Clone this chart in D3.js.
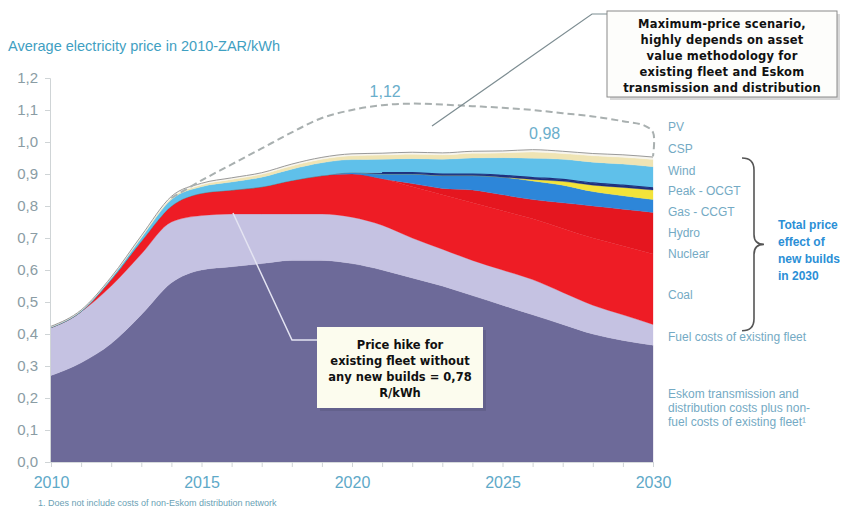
<!DOCTYPE html>
<html><head><meta charset="utf-8">
<script src="https://cdn.jsdelivr.net/npm/d3@7"></script>
<style>body{margin:0;background:#fff;} svg{display:block;font-family:"Liberation Sans",Arial,sans-serif;}</style>
</head><body><svg id="c" width="844" height="510"></svg>
<script>
// ---- data ----
const years = [2010,2011,2012,2013,2014,2015,2016,2017,2018,2019,2020,2021,2022,2023,2024,2025,2026,2027,2028,2029,2030];
const eskomTD  = [0.27,0.31,0.37,0.46,0.56,0.60,0.61,0.62,0.63,0.63,0.62,0.60,0.575,0.55,0.52,0.49,0.46,0.43,0.40,0.38,0.365];
const fuel     = [0.15,0.16,0.18,0.19,0.19,0.17,0.165,0.155,0.145,0.145,0.145,0.14,0.125,0.115,0.11,0.11,0.11,0.10,0.09,0.08,0.065];
const coal     = [0,0,0.02,0.04,0.05,0.07,0.075,0.085,0.105,0.12,0.135,0.145,0.16,0.17,0.18,0.185,0.19,0.20,0.21,0.215,0.22];
const nuclear  = [0,0,0,0,0,0,0,0,0,0,0,0,0.01,0.02,0.04,0.05,0.06,0.08,0.10,0.115,0.13];
const hydro    = [0,0,0,0,0,0,0,0,0,0,0.005,0.015,0.03,0.04,0.045,0.055,0.058,0.055,0.045,0.042,0.04];
const gasCCGT  = [0,0,0,0,0,0,0,0,0,0,0,0,0,0,0,0,0.005,0.012,0.02,0.026,0.03];
const peakOCGT = [0,0,0,0,0,0,0,0,0,0,0,0.004,0.004,0.005,0.005,0.006,0.006,0.006,0.007,0.007,0.007];
const wind     = [0.002,0.003,0.005,0.01,0.02,0.02,0.025,0.03,0.035,0.04,0.04,0.042,0.044,0.046,0.05,0.055,0.06,0.063,0.065,0.066,0.066];
const csp      = [0,0,0,0.003,0.005,0.006,0.008,0.009,0.01,0.011,0.012,0.013,0.014,0.014,0.015,0.015,0.02,0.018,0.02,0.021,0.022];
const pv       = [0.002,0.002,0.003,0.004,0.005,0.005,0.005,0.005,0.006,0.006,0.006,0.006,0.006,0.006,0.006,0.006,0.007,0.007,0.007,0.008,0.008];

const maxYears = [2014,2015,2016,2017,2018,2019,2020,2021,2022,2023,2024,2025,2026,2027,2028,2029,2029.7,2030,2030];
const maxPrice = [0.825,0.88,0.93,0.98,1.03,1.075,1.10,1.115,1.12,1.117,1.112,1.107,1.10,1.09,1.08,1.065,1.052,1.03,0.955];

const yTicks = [0,0.1,0.2,0.3,0.4,0.5,0.6,0.7,0.8,0.9,1.0,1.1,1.2];
const xLabelYears = [2010,2015,2020,2025,2030];

const seriesKeys = ['eskomTD','fuel','coal','nuclear','hydro','gasCCGT','peakOCGT','wind','csp','pv'];
const seriesData = {eskomTD,fuel,coal,nuclear,hydro,gasCCGT,peakOCGT,wind,csp,pv};
const seriesColors = {eskomTD:'#6d6a99',fuel:'#c5c2e2',coal:'#ee1c25',nuclear:'#e5161f',hydro:'#2d86d9',
  gasCCGT:'#f3e33a',peakOCGT:'#1f2f7c',wind:'#5fc0ea',csp:'#efe4b4',pv:'#f7f5ee'};

const legendLabels = [
  {t:'PV', y:131},{t:'CSP', y:153},{t:'Wind', y:175},{t:'Peak - OCGT', y:195},{t:'Gas - CCGT', y:216},
  {t:'Hydro', y:237},{t:'Nuclear', y:258},{t:'Coal', y:299},{t:'Fuel costs of existing fleet', y:341},
  {t:'Eskom transmission and', y:398},{t:'distribution costs plus non-', y:412},{t:'fuel costs of existing fleet\u00b9', y:426}
];

// ---- chart ----
const svg = d3.select('#c');
const x = d3.scaleLinear().domain([2010,2030]).range([51,653]);
const y = d3.scaleLinear().domain([0,1.2]).range([462,78]);

const table = years.map((yr,i)=>{ const o={year:yr}; seriesKeys.forEach(k=>o[k]=seriesData[k][i]); return o; });
const stacked = d3.stack().keys(seriesKeys)(table);

const area = d3.area().x(d=>x(d.data.year)).y0(d=>y(d[0])).y1(d=>y(d[1])).curve(d3.curveMonotoneX);
svg.append('g').selectAll('path').data(stacked).join('path')
  .attr('d',area).attr('fill',d=>seriesColors[d.key]).attr('stroke',d=>seriesColors[d.key]).attr('stroke-width',0.3);

// top outline
const topLine = d3.line().x(d=>x(d.data.year)).y(d=>y(d[1])).curve(d3.curveMonotoneX);
svg.append('path').attr('d',topLine(stacked[stacked.length-1])).attr('fill','none').attr('stroke','#9a9a9a').attr('stroke-width',1);
// peak OCGT line emphasis
svg.append('path').attr('d',topLine(stacked[6].filter((d,i)=>i>=11))).attr('fill','none').attr('stroke','#1f2f7c').attr('stroke-width',1.2);

// max price dashed
const dash = d3.line().x(d=>x(d[0])).y(d=>y(d[1])).curve(d3.curveCatmullRom.alpha(0.5));
svg.append('path').attr('d',dash(maxYears.map((v,i)=>[v,maxPrice[i]])))
  .attr('fill','none').attr('stroke','#a9b0b0').attr('stroke-width',2).attr('stroke-dasharray','7,4');

// axes
const yAxis = d3.axisLeft(y).tickValues(yTicks).tickSize(5).tickPadding(7)
  .tickFormat(d=>d3.format('.1f')(d).replace('.',','));
const gy = svg.append('g').attr('transform','translate(50,0)').call(yAxis);
gy.select('.domain').attr('stroke','#cfd4d6');
gy.selectAll('.tick line').attr('stroke','#cfd4d6');
gy.selectAll('text').attr('fill','#8a9ca4').attr('font-size',15);

const xAxis = d3.axisBottom(x).tickValues(years).tickSize(5).tickPadding(10)
  .tickFormat(d=>xLabelYears.includes(d)?String(d):'');
const gx = svg.append('g').attr('transform','translate(0,462)').call(xAxis);
gx.select('.domain').attr('stroke','#d6dadc');
gx.selectAll('.tick line').attr('stroke','#cfd4d6');
gx.selectAll('text').attr('fill','#5ea9c8').attr('font-size',16);

// title
svg.append('text').attr('x',8).attr('y',51).text('Average electricity price in 2010-ZAR/kWh')
  .attr('fill','#3fa0c2').attr('font-size',14.5);

// value labels
svg.append('text').attr('x',x(2021.1)).attr('y',y(1.14)).attr('text-anchor','middle').text('1,12').attr('fill','#6aaecb').attr('font-size',16);
svg.append('text').attr('x',x(2026.4)).attr('y',y(1.01)).attr('text-anchor','middle').text('0,98').attr('fill','#6aaecb').attr('font-size',16);

// legend labels
svg.append('g').selectAll('text').data(legendLabels).join('text')
  .attr('x',668).attr('y',d=>d.y).text(d=>d.t).attr('fill','#74aac4').attr('font-size',12);

// brace
const bx=742, bt=y(0.95), bb=y(0.41), bm=y(0.68);
svg.append('path').attr('d',`M${bx},${bt} Q${bx+12},${bt} ${bx+12},${bt+12} L${bx+12},${bm-10} Q${bx+12},${bm} ${bx+22},${bm} Q${bx+12},${bm} ${bx+12},${bm+10} L${bx+12},${bb-12} Q${bx+12},${bb} ${bx},${bb}`)
  .attr('fill','none').attr('stroke','#555').attr('stroke-width',1.6);
svg.append('g').selectAll('text').data(['Total price','effect of','new builds','in 2030']).join('text')
  .attr('x',778).attr('y',(d,i)=>229+i*17).text(d=>d).attr('fill','#2b8fd6').attr('font-size',12).attr('font-weight','bold');

// top annotation
svg.append('polyline').attr('points','608,14 592,14 432,126').attr('fill','none').attr('stroke','#7d8d92').attr('stroke-width',1.2);
svg.append('rect').attr('x',610).attr('y',14).attr('width',230).attr('height',86).attr('fill','#d8d8d8');
svg.append('rect').attr('x',607).attr('y',11).attr('width',230).attr('height',86).attr('fill','#fdfdfb').attr('stroke','#8a8a8a');
svg.append('g').selectAll('text').data(['Maximum-price scenario,','highly depends on asset','value methodology  for','existing fleet and Eskom','transmission and  distribution'])
  .join('text').attr('x',722).attr('y',(d,i)=>28+i*16).attr('text-anchor','middle').text(d=>d)
  .attr('font-family','"DejaVu Sans",sans-serif').attr('font-size',11.5).attr('font-weight','bold').attr('letter-spacing',0.2).attr('fill','#111');

// bottom annotation
svg.append('polyline').attr('points','233,213 292,340 317,340').attr('fill','none').attr('stroke','#e4e4f2').attr('stroke-width',1.5);
svg.append('rect').attr('x',320).attr('y',330).attr('width',166).attr('height',81).attr('fill','#5a5780').attr('opacity',0.5);
svg.append('rect').attr('x',317).attr('y',327).attr('width',166).attr('height',81).attr('fill','#fcfcee');
svg.append('g').selectAll('text').data(['Price hike for','existing fleet without','any new builds = 0,78','R/kWh'])
  .join('text').attr('x',400).attr('y',(d,i)=>349+i*16).attr('text-anchor','middle').text(d=>d)
  .attr('font-family','"DejaVu Sans",sans-serif').attr('font-size',11.5).attr('font-weight','bold').attr('fill','#111');

// footnote
svg.append('text').attr('x',38).attr('y',506).text('1. Does not include costs of non-Eskom distribution network')
  .attr('fill','#6a9fb5').attr('font-size',9);
</script></body></html>
